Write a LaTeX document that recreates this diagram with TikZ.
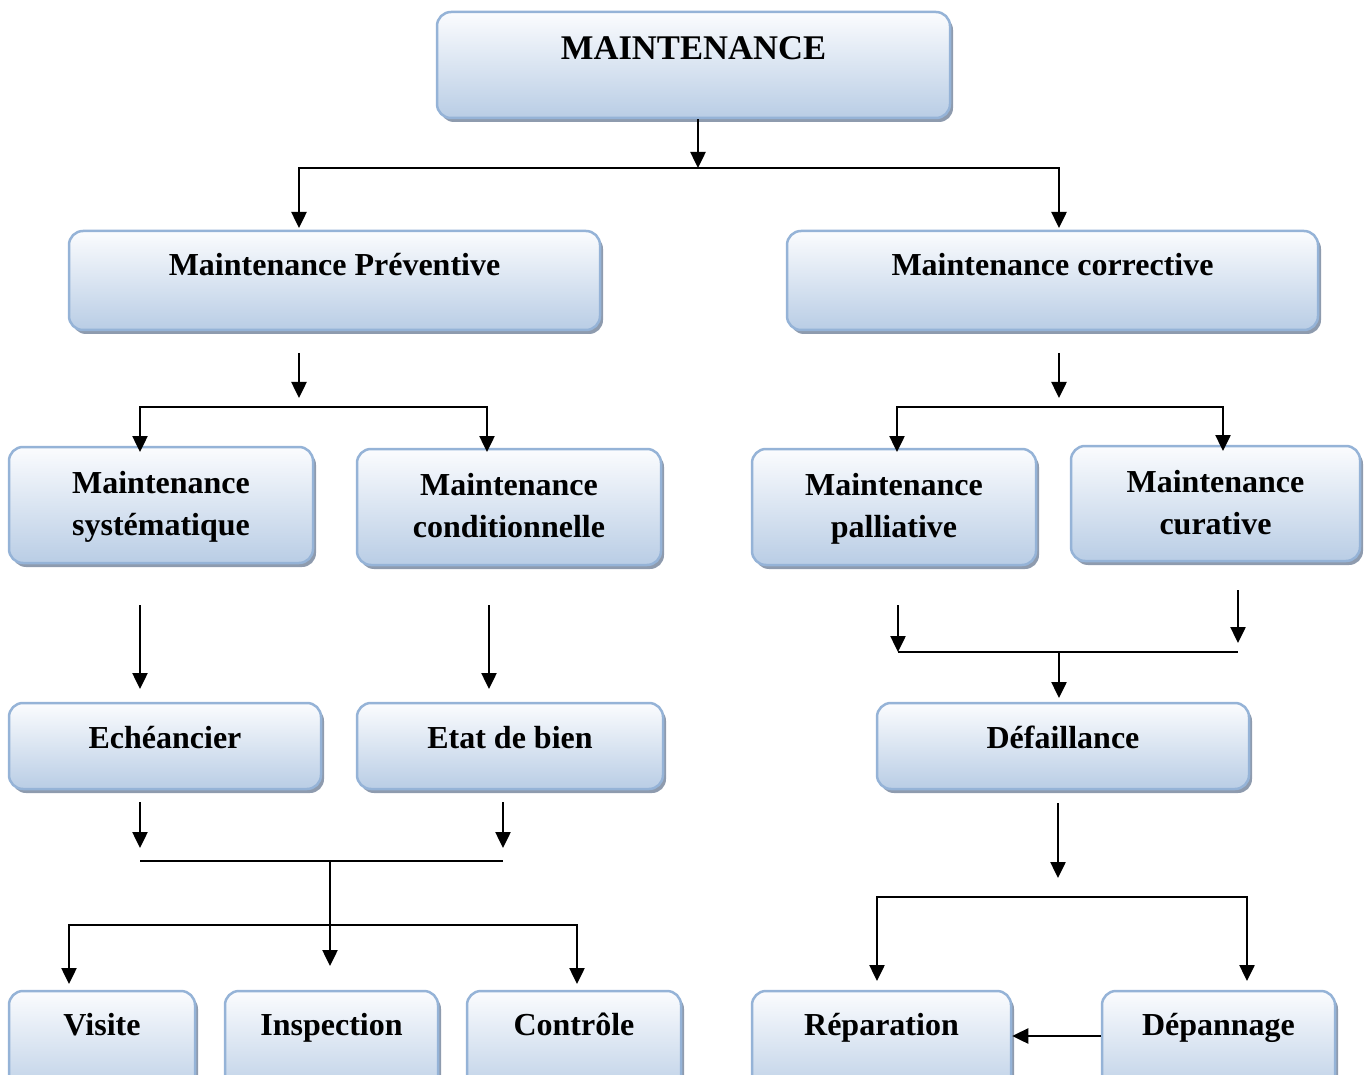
\documentclass[tikz,border=0pt]{standalone}
\usepackage{fontspec}
\setmainfont{Liberation Serif}
\usetikzlibrary{arrows.meta,shadows}
\definecolor{bordc}{HTML}{95B3D7}
\definecolor{topc}{HTML}{FBFCFE}
\definecolor{botc}{HTML}{B9CDE5}
\definecolor{shadc}{HTML}{8E9BAE}
\begin{document}
\begin{tikzpicture}[x=1pt,y=-1pt,
  box/.style={draw=bordc, line width=2.5pt, rounded corners=14pt,
    top color=topc, bottom color=botc, inner sep=0pt,
    drop shadow={shadow xshift=3pt, shadow yshift=-4pt, fill=shadc, opacity=1}},
  lbl/.style={font=\bfseries\fontsize{32}{42}\selectfont, align=center, inner sep=0pt, anchor=base},
  conn/.style={line width=2.5pt, draw=black},
  arr/.style={conn, -{Triangle[length=16pt,width=15pt]}}]
\path[use as bounding box] (0,0) rectangle (1366,1075);
\clip (0,0) rectangle (1366,1075);

% boxes
\node[box, minimum width=513pt, minimum height=106pt] (M) at (693.5,65) {};
\node[lbl, font=\bfseries\fontsize{34.6}{42}\selectfont] (Mt) at (693.5,60) {MAINTENANCE};

\node[box, minimum width=531pt, minimum height=99pt] (P) at (334.5,280.5) {};
\node[lbl] (Pt) at (334.5,276) {Maintenance Préventive};
\node[box, minimum width=531pt, minimum height=99pt] (C) at (1052.5,280.5) {};
\node[lbl] (Ct) at (1052.5,276) {Maintenance corrective};

\node[box, minimum width=304pt, minimum height=116pt] (S) at (161,505) {};
\node[lbl] (St) at (161,535) {Maintenance\\systématique};
\node[box, minimum width=304pt, minimum height=116pt] (K) at (509,507) {};
\node[lbl] (Kt) at (509,537) {Maintenance\\conditionnelle};
\node[box, minimum width=284pt, minimum height=116pt] (L) at (894,507) {};
\node[lbl] (Lt) at (894,537) {Maintenance\\palliative};
\node[box, minimum width=289pt, minimum height=115pt] (U) at (1215.5,503.5) {};
\node[lbl] (Ut) at (1215.5,534) {Maintenance\\curative};

\node[box, minimum width=312pt, minimum height=86pt] (E) at (165,746) {};
\node[lbl] (Et) at (165,748) {Echéancier};
\node[box, minimum width=306pt, minimum height=86pt] (B) at (510,746) {};
\node[lbl] (Bt) at (510,748) {Etat de bien};
\node[box, minimum width=372pt, minimum height=86pt] (D) at (1063,746) {};
\node[lbl] (Dt) at (1063,748) {Défaillance};

\node[box, minimum width=186pt, minimum height=110pt] (V) at (102,1046) {};
\node[lbl] (Vt) at (102,1035) {Visite};
\node[box, minimum width=213pt, minimum height=110pt] (I) at (331.5,1046) {};
\node[lbl] (It) at (331.5,1035) {Inspection};
\node[box, minimum width=214pt, minimum height=110pt] (T) at (574,1046) {};
\node[lbl] (Tt) at (574,1035) {Contrôle};
\node[box, minimum width=259pt, minimum height=110pt] (R) at (881.5,1046) {};
\node[lbl] (Rt) at (881.5,1035) {Réparation};
\node[box, minimum width=233pt, minimum height=110pt] (A) at (1218.5,1046) {};
\node[lbl] (At) at (1218.5,1035) {Dépannage};

% level 1
\coordinate (j0) at (698,168);
\coordinate (p0) at (299,228);
\coordinate (c0) at (1059,228);
\draw[arr] (M.south -| j0) -- (j0);
\draw[arr] (j0) -| (p0);
\draw[arr] (j0) -| (c0);

% preventive split
\coordinate (p1) at (299,353);
\coordinate (p2) at (299,398);
\coordinate (p3) at (299,407);
\coordinate (s0) at (140,452);
\coordinate (k0) at (487,452);
\draw[arr] (p1) -- (p2);
\draw[arr] (p3) -| (s0);
\draw[arr] (p3) -| (k0);

% corrective split
\coordinate (c1) at (1059,353);
\coordinate (c2) at (1059,398);
\coordinate (c3) at (1059,407);
\coordinate (l0) at (897,452);
\coordinate (u0) at (1223,451);
\draw[arr] (c1) -- (c2);
\draw[arr] (c3) -| (l0);
\draw[arr] (c3) -| (u0);

% to echeancier / etat
\coordinate (s1) at (140,605);
\coordinate (s2) at (140,689);
\coordinate (k1) at (489,605);
\coordinate (k2) at (489,689);
\draw[arr] (s1) -- (s2);
\draw[arr] (k1) -- (k2);

% palliative / curative merge
\coordinate (l1) at (898,605);
\coordinate (l2) at (898,652);
\coordinate (u1) at (1238,590);
\coordinate (u2) at (1238,643);
\coordinate (u3) at (1238,652);
\coordinate (d1) at (1059,652);
\coordinate (d2) at (1059,698);
\draw[arr] (l1) -- (l2);
\draw[arr] (u1) -- (u2);
\draw[conn] (l2) -- (u3);
\draw[arr] (d1) -- (d2);

% echeancier / etat merge
\coordinate (e1) at (140,802);
\coordinate (e2) at (140,848);
\coordinate (b1) at (503,802);
\coordinate (b2) at (503,848);
\coordinate (m1) at (140,861);
\coordinate (m2) at (503,861);
\coordinate (m3) at (330,861);
\coordinate (m4) at (330,966);
\coordinate (m5) at (330,925);
\coordinate (v0) at (69,984);
\coordinate (t0) at (577,984);
\draw[arr] (e1) -- (e2);
\draw[arr] (b1) -- (b2);
\draw[conn] (m1) -- (m2);
\draw[arr] (m3) -- (m4);
\draw[arr] (m5) -| (v0);
\draw[arr] (m5) -| (t0);

% defaillance split
\coordinate (f1) at (1058,803);
\coordinate (f2) at (1058,878);
\coordinate (f3) at (1058,897);
\coordinate (r0) at (877,981);
\coordinate (a0) at (1247,981);
\draw[arr] (f1) -- (f2);
\draw[arr] (f3) -| (r0);
\draw[arr] (f3) -| (a0);

% depannage -> reparation
\draw[arr] (A.west |- 0,1036) -- (R.east |- 0,1036);
\end{tikzpicture}
\end{document}
